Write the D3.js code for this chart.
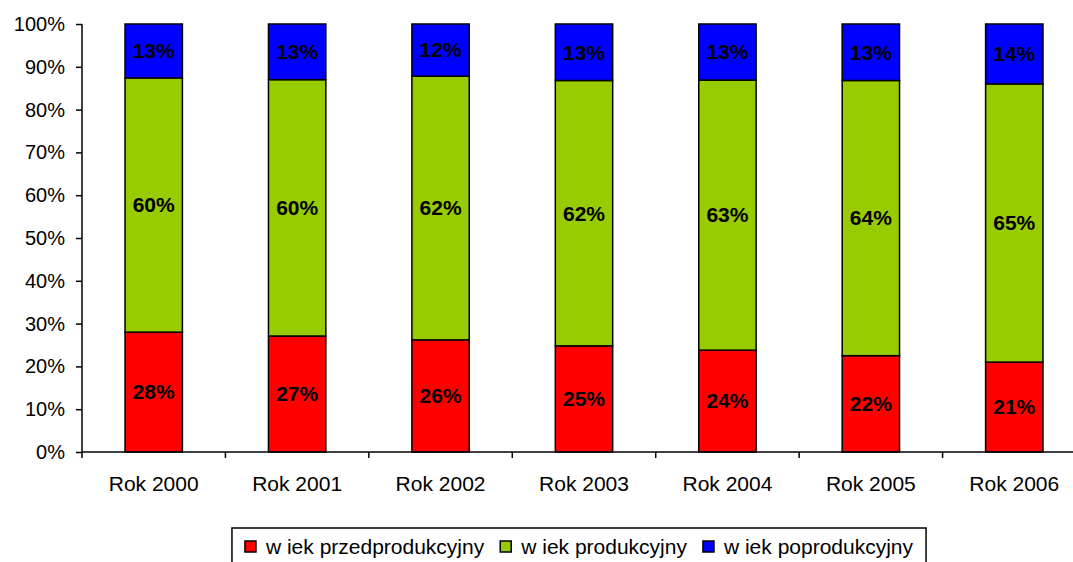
<!DOCTYPE html>
<html>
<head>
<meta charset="utf-8">
<script src="https://cdn.jsdelivr.net/npm/d3@7/dist/d3.min.js"></script>
<style>
  body { margin: 0; background: #fff; }
  svg text { font-family: "Liberation Sans", Arial, sans-serif; fill: #000; }
</style>
</head>
<body>
<svg id="chart" width="1073" height="562"></svg>
<script>
// data (percent of population)
const years = ["Rok 2000", "Rok 2001", "Rok 2002", "Rok 2003", "Rok 2004", "Rok 2005", "Rok 2006"];
const przed = [28.0, 27.1, 26.2, 24.8, 23.8, 22.5, 21.0];
const prod = [59.4, 59.9, 61.6, 62.0, 63.1, 64.3, 65.0];
const popr = [12.6, 13.0, 12.2, 13.2, 13.1, 13.2, 14.0];
const przedLabels = ["28%", "27%", "26%", "25%", "24%", "22%", "21%"];
const prodLabels = ["60%", "60%", "62%", "62%", "63%", "64%", "65%"];
const poprLabels = ["13%", "13%", "12%", "13%", "13%", "13%", "14%"];
const seriesNames = ["w iek przedprodukcyjny", "w iek produkcyjny", "w iek poprodukcyjny"];
const colors = ["#ff0000", "#99cc00", "#0000ff"];
const yTicks = [0, 10, 20, 30, 40, 50, 60, 70, 80, 90, 100];

const svg = d3.select("#chart");
const pLeft = 82, pRight = 1086, pTop = 24, pBottom = 452;

const x = d3.scaleBand().domain(years).range([pLeft, pRight]).paddingInner(0.6).paddingOuter(0.3);
const step = (pRight - pLeft) / years.length;
const y = d3.scaleLinear().domain([0, 100]).range([pBottom, pTop]);

const rows = years.map((yr, i) => ({
  year: yr, przed: przed[i], prod: prod[i], popr: popr[i],
  labels: [przedLabels[i], prodLabels[i], poprLabels[i]]
}));
const stack = d3.stack().keys(["przed", "prod", "popr"])(rows);

// bars
stack.forEach((layer, k) => {
  const g = svg.append("g");
  g.selectAll("rect").data(layer).join("rect")
    .attr("x", d => x(d.data.year))
    .attr("width", x.bandwidth())
    .attr("y", d => y(d[1]))
    .attr("height", d => y(d[0]) - y(d[1]))
    .attr("fill", colors[k])
    .attr("stroke", "#000")
    .attr("stroke-width", 1.5);
  g.selectAll("text").data(layer).join("text")
    .attr("x", d => x(d.data.year) + x.bandwidth() / 2)
    .attr("y", d => y((d[0] + d[1]) / 2))
    .attr("dy", "0.35em")
    .attr("text-anchor", "middle")
    .style("font-size", "21px")
    .style("font-weight", "bold")
    .text(d => d.data.labels[k]);
});

// y axis
const yAxis = d3.axisLeft(y).tickValues(yTicks).tickFormat(d => d + "%").tickSize(6).tickPadding(11);
const ya = svg.append("g").attr("transform", `translate(${pLeft},0)`).call(yAxis);
ya.select(".domain").attr("stroke", "#000").attr("stroke-width", 1.5).attr("d", `M0,${pBottom}V${pTop}`);
ya.selectAll(".tick line").attr("stroke", "#000").attr("stroke-width", 1.5);
ya.selectAll(".tick text").style("font-size", "20px").style("font-family", "Liberation Sans, Arial, sans-serif");

// x axis
const xa = svg.append("g").attr("transform", `translate(0,${pBottom})`);
xa.append("line").attr("x1", pLeft).attr("x2", pRight).attr("stroke", "#000").attr("stroke-width", 1.5);
xa.selectAll("line.tk").data(d3.range(years.length + 1)).join("line")
  .attr("class", "tk")
  .attr("x1", i => pLeft + i * step).attr("x2", i => pLeft + i * step)
  .attr("y1", 0).attr("y2", 6)
  .attr("stroke", "#000").attr("stroke-width", 1.5);
xa.selectAll("text").data(years).join("text")
  .attr("x", d => x(d) + x.bandwidth() / 2)
  .attr("y", 39)
  .attr("text-anchor", "middle")
  .style("font-size", "21px")
  .text(d => d);

// legend
const lg = svg.append("g");
let cx = 0;
const items = seriesNames.map((n, i) => {
  const t = lg.append("text").attr("y", 554).style("font-size", "21px").text(n);
  const w = t.node().getComputedTextLength();
  const it = { t, x: cx, w };
  cx += 21 + w + 16;
  return it;
});
const total = cx - 16;
const lx0 = 579 - total / 2;
items.forEach((it, i) => {
  lg.append("rect").attr("x", lx0 + it.x).attr("y", 541).attr("width", 11).attr("height", 11)
    .attr("fill", colors[i]).attr("stroke", "#000").attr("stroke-width", 1.5);
  it.t.attr("x", lx0 + it.x + 21);
});
lg.insert("rect", ":first-child")
  .attr("x", lx0 - 13).attr("y", 528).attr("width", total + 26).attr("height", 44)
  .attr("fill", "#fff").attr("stroke", "#000").attr("stroke-width", 1.5);
</script>
</body>
</html>
